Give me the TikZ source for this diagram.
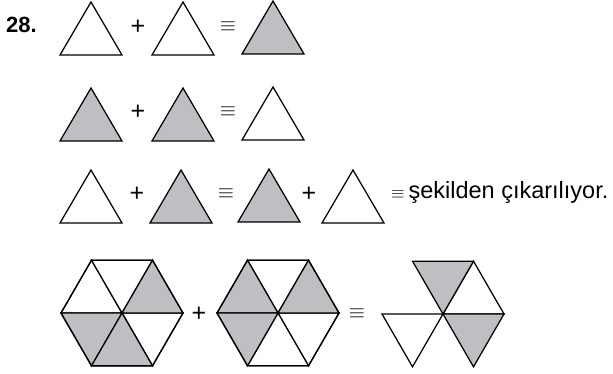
\documentclass[tikz,border=0pt]{standalone}
\usepackage{fontspec}
\setmainfont{Liberation Sans}
\usetikzlibrary{calc}
\definecolor{shade}{RGB}{190,191,194}
\newcommand{\tri}[3]{\draw[fig,fill=#1](#2,#3)--++(62,0)--++(-31,-53)--cycle;}
\newcommand{\piece}[2]{\draw[fig,fill=#2](0,0)--(#1:61)--(#1+60:61)--cycle;}

\begin{document}
\begin{tikzpicture}[x=1pt,y=-1pt,fig/.style={line width=1.25pt,line join=miter},
  op/.style={inner sep=0pt,font=\fontsize{25}{25}\selectfont},
  eq/.style={inner sep=0pt,font=\fontsize{20}{20}\selectfont}]
\useasboundingbox (0,0) rectangle (613,373);
\node[anchor=west,inner sep=0pt,font=\fontsize{22}{22}\selectfont\bfseries] (num) at (6,25) {28.};
\tri{white}{60}{55} \node[op] (p1) at (138,27) {+};
\tri{white}{152}{55} \node[eq] (e1) at (228,27) {$\equiv$};
\tri{shade}{242}{54}
\tri{shade}{60}{141} \node[op] (p2) at (138,112) {+};
\tri{shade}{152}{141} \node[eq] (e2) at (228,112) {$\equiv$};
\tri{white}{242}{140}
\tri{white}{60}{223} \node[op] (p3) at (137,194) {+};
\tri{shade}{150}{223} \node[eq] (e3) at (226,194) {$\equiv$};
\tri{shade}{238}{222} \node[op] (p4) at (309,194) {+};
\tri{white}{322}{223}
\node[anchor=west,inner sep=0pt,font=\fontsize{23.5}{23.5}\selectfont] (txt) at (391,192) {{\fontsize{18}{18}\selectfont$\equiv$}\,şekilden çıkarılıyor.};
\begin{scope}[shift={(122,313)}]
\foreach \a in {0,60,180,240}{\piece{\a}{white}}
\foreach \a in {300,120,60}{\piece{\a}{shade}}
\draw[fig](0:61)--(60:61)--(120:61)--(180:61)--(240:61)--(300:61)--cycle;
\end{scope}
\node[op] (p5) at (199,314) {+};
\begin{scope}[shift={(278,313)}]
\foreach \a in {0,60,240}{\piece{\a}{white}}
\foreach \a in {300,180,120}{\piece{\a}{shade}}
\draw[fig](0:61)--(60:61)--(120:61)--(180:61)--(240:61)--(300:61)--cycle;
\end{scope}
\node[eq] (e5) at (357,314) {$\equiv$};
\begin{scope}[shift={(443,314)}]
\foreach \a in {300,120}{\piece{\a}{white}}
\foreach \a in {240,0}{\piece{\a}{shade}}
\end{scope}
\end{tikzpicture}
\end{document}
